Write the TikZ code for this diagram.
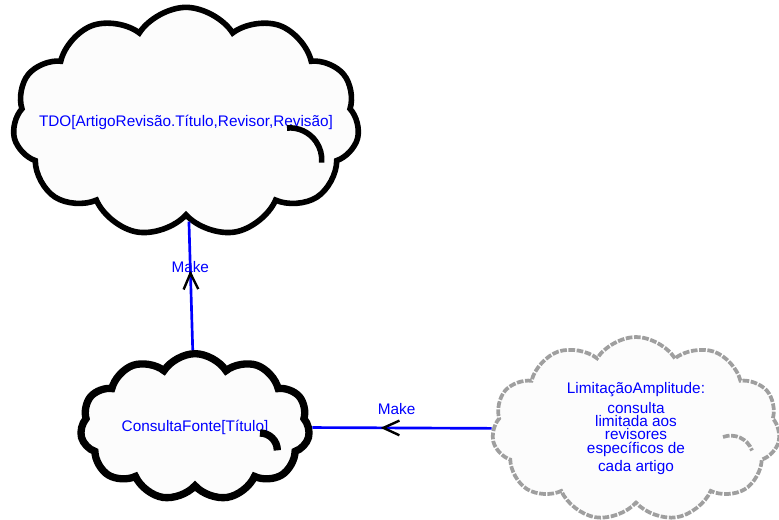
\documentclass[tikz,border=0pt]{standalone}
\usepackage{fontspec}
\setmainfont{Liberation Sans}
\usetikzlibrary{shapes.symbols,arrows.meta,decorations.markings}

\begin{document}
\begin{tikzpicture}[x=0.75pt,y=-0.75pt]
\tikzstyle{goal}=[cloud,cloud puffs=11,cloud puff arc=115,cloud ignores aspect,draw=black,line width=4.2pt,fill=white!99!black,text=blue,align=center,inner sep=0pt,font=\fontsize{11.5}{10}\selectfont]
\tikzstyle{softgoal}=[goal,draw=gray!75,line width=2.8pt,dash pattern=on 5pt off 1.2pt]
\tikzstyle{make}=[draw=blue,line width=2pt,decoration={markings,mark=at position #1 with {\arrow[black,line width=1.8pt]{Straight Barb[length=12pt,width=11pt]}}},postaction={decorate}]
\tikzstyle{lbl}=[text=blue,font=\fontsize{11.5}{12}\selectfont,inner sep=1pt]
\useasboundingbox (0,0) rectangle (779,519);

% long label: negative xsep so the minimum size sets the cloud
\node[goal,inner xsep=-80pt,minimum width=260pt,minimum height=172pt](tdo) at (186,122) {TDO[ArtigoRevisão.Título,Revisor,Revisão]};
\node[goal,line width=5.5pt,minimum width=172pt,minimum height=110pt](ctf) at (195,427) {ConsultaFonte[Título]};
\node[softgoal,minimum width=216pt,minimum height=138pt](lim) at (636,429) {LimitaçãoAmplitude:\\[2.5pt] consulta\\ limitada aos\\ revisores\\ específicos de\\[2.5pt] cada artigo};

% the little curls inside the clouds
\draw[line width=4.2pt] ([shift={(101,6)}]tdo.center) arc[start angle=95,end angle=-5,radius=24pt];
\draw[line width=5.5pt] ([shift={(65,6)}]ctf.center) arc[start angle=90,end angle=0,radius=13pt];
\draw[draw=gray!75,line width=2.8pt,dash pattern=on 5pt off 1.2pt] ([shift={(87,8)}]lim.center) arc[start angle=110,end angle=20,radius=17pt];

\draw[make=.62] (ctf) -- node[lbl,pos=.65]{Make} (tdo);
\draw[make=.62] (lim) -- node[lbl,pos=.53,above=8pt]{Make} (ctf);
\end{tikzpicture}
\end{document}
